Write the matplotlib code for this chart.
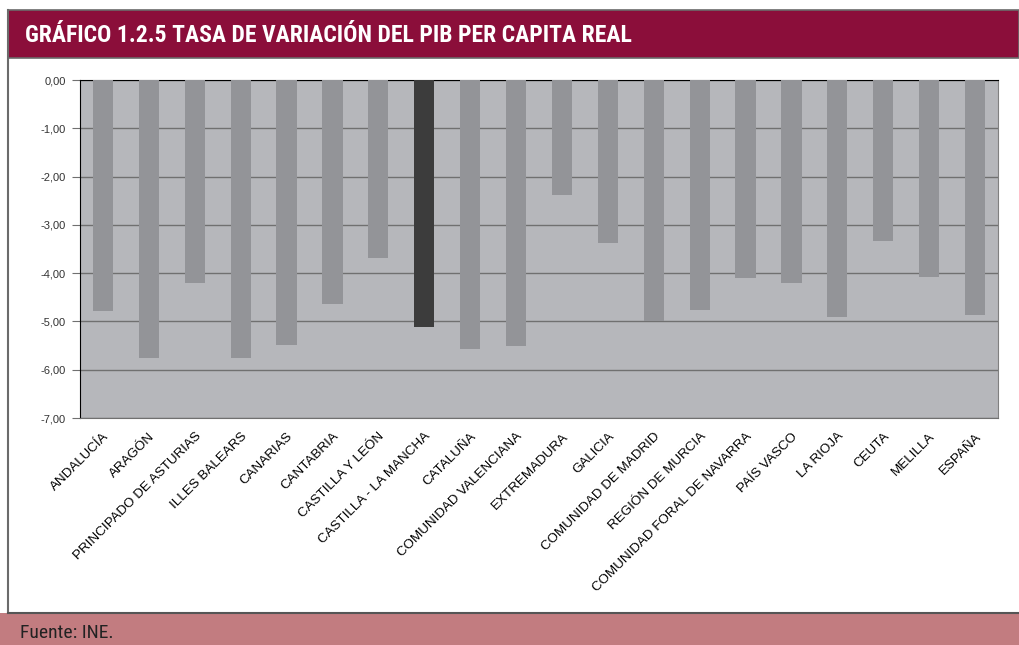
import matplotlib
matplotlib.use("Agg")
import matplotlib.pyplot as plt
from matplotlib.patches import Rectangle
from matplotlib.lines import Line2D
from matplotlib.ticker import FuncFormatter
from matplotlib import font_manager as fm

regions = ["ANDALUCÍA", "ARAGÓN", "PRINCIPADO DE ASTURIAS", "ILLES BALEARS", "CANARIAS",
           "CANTABRIA", "CASTILLA Y LEÓN", "CASTILLA - LA MANCHA", "CATALUÑA",
           "COMUNIDAD VALENCIANA", "EXTREMADURA", "GALICIA", "COMUNIDAD DE MADRID",
           "REGIÓN DE MURCIA", "COMUNIDAD FORAL DE NAVARRA", "PAÍS VASCO", "LA RIOJA",
           "CEUTA", "MELILLA", "ESPAÑA"]
values = [-4.79, -5.76, -4.20, -5.76, -5.48, -4.64, -3.69, -5.11, -5.58, -5.50,
          -2.39, -3.38, -5.00, -4.77, -4.11, -4.20, -4.90, -3.34, -4.09, -4.86]
highlight = "CASTILLA - LA MANCHA"
yticks = [0, -1, -2, -3, -4, -5, -6, -7]


def weight_num(w):
    if isinstance(w, (int, float)):
        return w
    return {"bold": 700, "heavy": 800, "black": 900, "semibold": 600,
            "demibold": 600, "extra bold": 800}.get(str(w).lower(), 400)


def is_narrow(f):
    return "Narrow" in f.name or "Condensed" in f.name or "condensed" in str(f.stretch)


entries = fm.fontManager.ttflist
narrow_bold = [f for f in entries if is_narrow(f) and weight_num(f.weight) >= 700
               and f.style == "normal"]
narrow_reg = [f for f in entries if is_narrow(f) and weight_num(f.weight) < 600
              and f.style == "normal"]


def pick(lst):
    for pref in ("Liberation Sans Narrow", "Roboto Condensed", "Open Sans Condensed",
                 "DejaVu Sans Condensed", "DejaVu Sans"):
        for f in lst:
            if f.name == pref:
                return f
    return lst[0] if lst else None


fb = pick(narrow_bold)
fr = pick(narrow_reg)
title_font = (fm.FontProperties(fname=fb.fname) if fb
              else fm.FontProperties(family="Liberation Sans", weight="bold"))
foot_font = (fm.FontProperties(fname=fr.fname) if fr
             else fm.FontProperties(family="Liberation Sans"))

W, H = 1019, 645
fig = plt.figure(figsize=(W / 100, H / 100), dpi=100)
fig.patch.set_facecolor("white")


def fx(px):
    return px / W


def fy(py):
    return 1 - py / H


# outer frame line
fig.add_artist(Line2D([fx(8), fx(8)], [fy(10), fy(613)], color="#6b6b6b", lw=1.5))
# title bar
fig.add_artist(Rectangle((fx(8), fy(58)), fx(W) - fx(8), (58 - 10) / H,
                         facecolor="#8B0E3A", edgecolor="#6b6b6b", lw=1.2))
title = fig.text(fx(25), fy(35), "GRÁFICO 1.2.5 TASA DE VARIACIÓN DEL PIB PER CAPITA REAL",
                 color="white", va="center", ha="left", fontproperties=title_font)
title.set_fontsize(16)
# footer
fig.add_artist(Rectangle((0, 0), fx(W), (H - 613) / H, facecolor="#C27C80",
                         edgecolor="none"))
fig.add_artist(Line2D([fx(8), fx(W)], [fy(613), fy(613)], color="#555555", lw=1.5))
foot = fig.text(fx(20), fy(633), "Fuente: INE.", color="#222222",
                va="center", ha="left", fontproperties=foot_font)
foot.set_fontsize(12.5)

# fit text widths to the reference
r = fig.canvas.get_renderer()
for t, target, cap in ((title, 607, 21), (foot, 97, 14)):
    w = t.get_window_extent(r).width
    t.set_fontsize(min(t.get_fontsize() * target / w, cap))

ax = fig.add_axes([fx(80), fy(418), fx(998) - fx(80), (418 - 80) / H])
ax.set_facecolor("#B6B7BB")
x = list(range(len(regions)))
colors = ["#3C3C3C" if rg == highlight else "#939498" for rg in regions]
ax.bar(x, values, width=0.44, color=colors, zorder=3)
ax.set_xlim(-0.5, len(regions) - 0.5)
ax.set_ylim(-7, 0)
ax.set_yticks(yticks)
ax.yaxis.set_major_formatter(FuncFormatter(
    lambda v, p: f"{v:.2f}".replace(".", ",").replace("-0,00", "0,00")))
ax.grid(axis="y", color="#707070", lw=1.0, zorder=1)
ax.set_xticks(x)
ax.set_xticklabels(regions, rotation=45, ha="right", rotation_mode="anchor",
                   fontsize=9.6, family=["Liberation Sans", "DejaVu Sans"], color="black")
ax.tick_params(axis="x", length=0, pad=9)
ax.tick_params(axis="y", length=6, color="#707070", labelsize=8, labelcolor="#333333", pad=4)
for lbl in ax.get_yticklabels():
    lbl.set_family(["Liberation Sans", "DejaVu Sans"])
ax.spines["left"].set_color("black")
ax.spines["top"].set_color("black")
ax.spines["right"].set_color("#808080")
ax.spines["bottom"].set_color("#707070")

fig.savefig("out.png", dpi=100)
